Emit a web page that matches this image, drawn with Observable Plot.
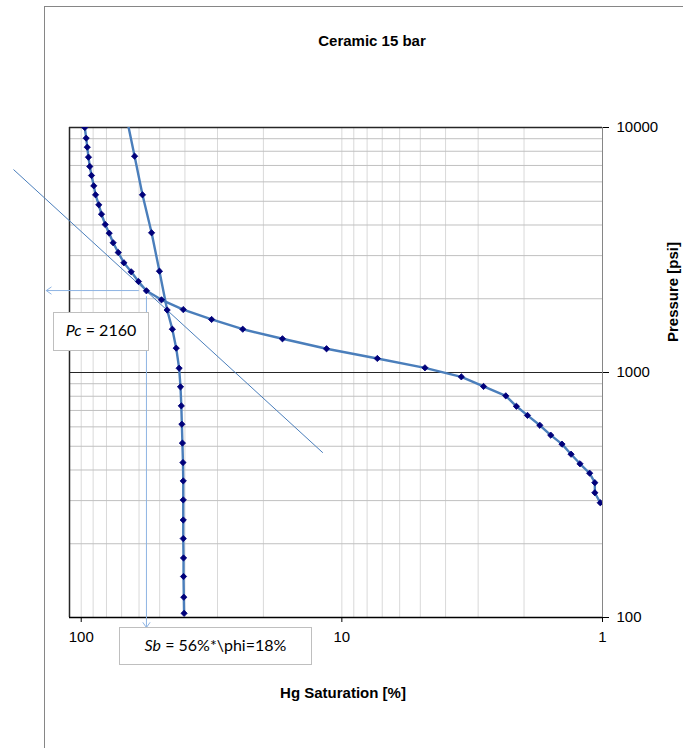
<!DOCTYPE html>
<html>
<head>
<meta charset="utf-8">
<script src="https://cdn.jsdelivr.net/npm/d3@7"></script>
<script src="https://cdn.jsdelivr.net/npm/@observablehq/plot@0.6"></script>
<style>
  html, body { margin: 0; padding: 0; background: #fff; }
  #wrap { position: relative; width: 683px; height: 748px; overflow: hidden; font-family: "Liberation Sans", Arial, sans-serif; }
  #wrap svg { position: absolute; left: 0; top: 0; }
  .area { position: absolute; left: 44px; top: 6px; width: 700px; height: 800px; border-left: 1px solid #868686; border-top: 1px solid #868686; }
  .lbl { position: absolute; font-weight: bold; font-size: 15px; color: #000; white-space: nowrap; transform: translate(-50%, -50%); }
  .box { position: absolute; background: #fff; border: 1px solid #bfbfbf; box-sizing: border-box; font-family: Lato, "Open Sans", sans-serif; font-size: 16px; color: #000; display: flex; align-items: center; justify-content: center; white-space: nowrap; }
</style>
</head>
<body>
<div id="wrap">
  <div class="area"></div>
</div>
<script>
// Curve 1 (drainage curve with dense markers): Hg saturation [%] and pressure [psi]
const curve1Sat = [96.9, 95.7, 94.8, 93.8, 92.7, 91.3, 89.5, 88.1, 85.6, 83.6, 80.9, 78.1, 75.4, 72.1, 68.6, 64.3, 60.3, 56.2, 49.2, 40.6, 31.6, 24.0, 16.9, 11.45, 7.31, 4.80, 3.48, 2.86, 2.35, 2.14, 1.94, 1.74, 1.58, 1.43, 1.32, 1.22, 1.12, 1.07, 1.07, 1.02];
const curve1P   = [10000, 9044, 8309, 7565, 6931, 6369, 5781, 5313, 4836, 4427, 4019, 3704, 3384, 3089, 2804, 2576, 2352, 2155, 1980, 1807, 1646, 1502, 1373, 1250, 1141, 1045, 960, 877, 803, 728, 668, 609, 555, 510, 464, 424, 388, 355, 323, 294];
// Curve 2 (steep curve near 40 %)
const curve2Sat = [67.0, 62.4, 58.2, 53.7, 50.1, 46.8, 44.7, 43.2, 42.1, 41.6, 41.3, 41.1, 40.9, 40.7, 40.6, 40.6, 40.6, 40.6, 40.5, 40.5, 40.4, 40.3];
const curve2P   = [11000, 7636, 5313, 3718, 2591, 1799, 1502, 1257, 1041, 874, 731, 615, 515, 429, 361, 302, 250, 210, 175, 147, 121, 104];
// Tangent line
const tangentSat = [181.4, 11.86];
const tangentP   = [6719, 471.6];
// Pc / Sb read-off arrows
const pcValue = 2160;
const pcArrowSat = [60.3, 136.2];     // from, to (horizontal arrow)
const sbValue = 56.2;
const sbArrowP = [2040, 91];          // from, to (vertical arrow)
// Axes
const xDomain = [110.9, 1];
const yDomain = [100, 10000];
const xTicks = [100, 10, 1];
const yTicks = [100, 1000, 10000];
const xGrid = [2, 3, 4, 5, 6, 7, 8, 9, 10, 20, 30, 40, 50, 60, 70, 80, 90, 100];
const yGrid = [200, 300, 400, 500, 600, 700, 800, 900, 2000, 3000, 4000, 5000, 6000, 7000, 8000, 9000];
const yMajorInner = [1000];
const title = "Ceramic 15 bar";
const xLabel = "Hg Saturation [%]";
const yLabel = "Pressure [psi]";
const pcLabel = ["Pc", " = 2160"];
const sbLabel = ["Sb", " = 56%*\\phi=18%"];

const c1 = curve1Sat.map((s, i) => ({sat: s, p: curve1P[i]}));
const c2 = curve2Sat.map((s, i) => ({sat: s, p: curve2P[i]}));
const tan = tangentSat.map((s, i) => ({sat: s, p: tangentP[i]}));

const lineColor = "#4a7ebb";
const markColor = "#00007a";
const arrowColor = "#8eb4e3";

const chart = Plot.plot({
  width: 683,
  height: 748,
  marginLeft: 69,
  marginRight: 81,
  marginTop: 127,
  marginBottom: 131,
  style: {fontFamily: "'Liberation Sans', Arial, sans-serif", fontSize: "15px", color: "#000", background: "transparent", overflow: "visible"},
  x: {type: "log", domain: xDomain, ticks: xTicks, tickFormat: d3.format("d"), tickSize: 5, tickPadding: 9, label: null},
  y: {type: "log", domain: yDomain, axis: "right", ticks: yTicks, tickFormat: d3.format("d"), tickSize: 6, tickPadding: 8, label: null},
  marks: [
    Plot.ruleX(xGrid, {stroke: "#d9d9d9", strokeWidth: 1}),
    Plot.ruleY(yGrid, {stroke: "#c0c0c0", strokeWidth: 1}),
    Plot.ruleY(yMajorInner, {stroke: "#262626", strokeWidth: 1}),
    Plot.ruleX([xDomain[1]], {stroke: "#868686", strokeWidth: 1}),
    Plot.ruleX([xDomain[0]], {stroke: "#262626", strokeWidth: 1.5}),
    Plot.ruleY([yDomain[1]], {stroke: "#262626", strokeWidth: 1.5}),
    Plot.ruleY([yDomain[0]], {stroke: "#000", strokeWidth: 1.5}),
    Plot.line(tan, {x: "sat", y: "p", stroke: lineColor, strokeWidth: 1}),
    Plot.arrow([{x1: pcArrowSat[0], x2: pcArrowSat[1], y1: pcValue, y2: pcValue}], {x1: "x1", x2: "x2", y1: "y1", y2: "y2", stroke: arrowColor, strokeWidth: 1, headLength: 9, headAngle: 70}),
    Plot.arrow([{x1: sbValue, x2: sbValue, y1: sbArrowP[0], y2: sbArrowP[1]}], {x1: "x1", x2: "x2", y1: "y1", y2: "y2", stroke: arrowColor, strokeWidth: 1, headLength: 9, headAngle: 70}),
    Plot.line(c2, {x: "sat", y: "p", stroke: lineColor, strokeWidth: 2.4, clip: true}),
    Plot.line(c1, {x: "sat", y: "p", stroke: lineColor, strokeWidth: 2.4, clip: true}),
    Plot.dot(c2, {x: "sat", y: "p", symbol: "square", rotate: 45, r: 2.5, fill: markColor, stroke: markColor, strokeWidth: 0.8, clip: true}),
    Plot.dot(c1, {x: "sat", y: "p", symbol: "square", rotate: 45, r: 2.5, fill: markColor, stroke: markColor, strokeWidth: 0.8, clip: true})
  ]
});

const wrap = document.getElementById("wrap");
wrap.appendChild(chart);

function addLabel(text, x, y, rotate) {
  const d = document.createElement("div");
  d.className = "lbl";
  d.textContent = text;
  d.style.left = x + "px";
  d.style.top = y + "px";
  if (rotate) d.style.transform = "translate(-50%, -50%) rotate(-90deg)";
  wrap.appendChild(d);
}
addLabel(title, 372, 40);
addLabel(xLabel, 343, 692);
addLabel(yLabel, 672, 292, true);

function addBox(parts, left, top, w, h) {
  const d = document.createElement("div");
  d.className = "box";
  d.style.left = left + "px";
  d.style.top = top + "px";
  d.style.width = w + "px";
  d.style.height = h + "px";
  const i = document.createElement("i");
  i.textContent = parts[0];
  const s = document.createElement("span");
  s.textContent = parts[1];
  s.style.whiteSpace = "pre";
  const inner = document.createElement("div");
  inner.style.marginTop = "-4px";
  inner.appendChild(i);
  inner.appendChild(s);
  d.appendChild(inner);
  wrap.appendChild(d);
}
addBox(pcLabel, 53, 312, 96, 39);
addBox(sbLabel, 119, 627, 193, 38);
</script>
</body>
</html>
